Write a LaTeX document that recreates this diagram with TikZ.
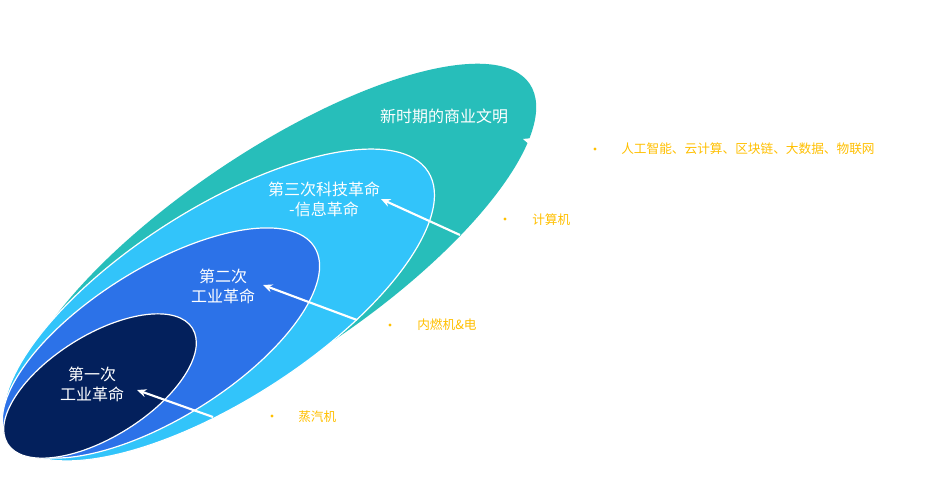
\documentclass[tikz,border=0pt]{standalone}
\usepackage{fontspec}
\setmainfont{Noto Sans CJK SC}
\usetikzlibrary{arrows.meta}
\definecolor{cteal}{HTML}{27BEBA}
\definecolor{clight}{HTML}{32C4FA}
\definecolor{cblue}{HTML}{2C72E8}
\definecolor{cnavy}{HTML}{03205C}
\definecolor{cgold}{HTML}{FFC000}
\tikzset{
  layer/.style={draw=white, line width=0.9pt},
  lvl/.style={text=white, font=\fontsize{12pt}{15pt}\selectfont, align=center, inner sep=0pt},
  tag/.style={text=cgold, font=\fontsize{9.5pt}{12pt}\selectfont, anchor=west, inner sep=0pt},
  dot/.style={circle, fill=cgold, inner sep=0pt, minimum size=2.6pt},
  pointer/.style={draw=white, line width=1.6pt, -{Stealth[length=7pt,width=6pt]}}
}
\begin{document}
\begin{tikzpicture}[x=0.75pt,y=-0.75pt]
\useasboundingbox[fill=white] (0,0) rectangle (941,493);
% outer teal
\fill[cteal, rotate around={34:(276,255)}] (276,255) ellipse [x radius=306, y radius=103];
% light blue
\filldraw[layer, fill=clight, rotate around={32.5:(219,305)}] (219,305) ellipse [x radius=248, y radius=96];
% blue
\filldraw[layer, fill=cblue, rotate around={32:(161,343)}] (161,343) ellipse [x radius=181, y radius=75];
% navy
\filldraw[layer, fill=cnavy, rotate around={32:(100,386)}] (100,386) ellipse [x radius=109, y radius=51];

% level labels
\node[lvl] (l4) at (444,116) {新时期的商业文明};
\node[lvl] (l3) at (324,199) {第三次科技革命\\-信息革命};
\node[lvl] (l2) at (223,286) {第二次\\工业革命};
\node[lvl] (l1) at (92,384) {第一次\\工业革命};

% arrows
\coordinate (t4) at (558,150); \coordinate (h4) at (523,139);
\coordinate (t3) at (460,235); \coordinate (h3) at (381,199);
\coordinate (t2) at (357,320); \coordinate (h2) at (263,285);
\coordinate (t1) at (213,417); \coordinate (h1) at (137,390);
\draw[pointer] (t4) -- (h4);
\draw[pointer] (t3) -- (h3);
\draw[pointer] (t2) -- (h2);
\draw[pointer] (t1) -- (h1);

% tags
\node[dot] (d4) at (595,149) {};
\node[tag] (g4) at (621,149) {人工智能、云计算、区块链、大数据、物联网};
\node[dot] (d3) at (505,219) {};
\node[tag] (g3) at (532,220) {计算机};
\node[dot] (d2) at (390,325) {};
\node[tag] (g2) at (417,325) {内燃机\&电};
\node[dot] (d1) at (272,416) {};
\node[tag] (g1) at (298,417) {蒸汽机};
\end{tikzpicture}
\end{document}
